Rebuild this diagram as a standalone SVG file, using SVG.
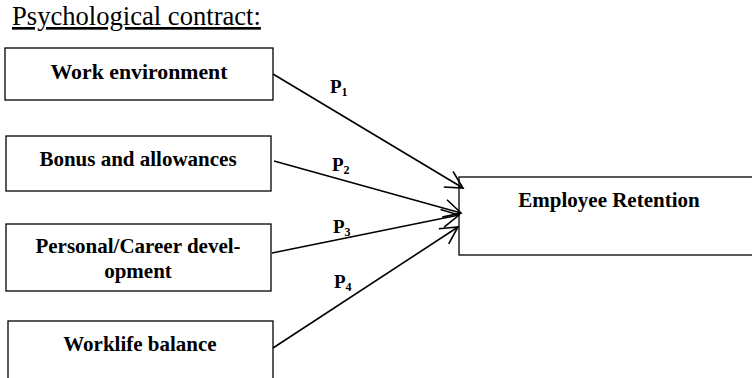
<svg xmlns="http://www.w3.org/2000/svg" width="752" height="378" viewBox="0 0 752 378">
<defs>
<style>
.box{fill:#fff;stroke:#000;stroke-width:1.3}
.lbl{font-family:"Liberation Serif","Times New Roman",serif;font-weight:bold;font-size:21px;fill:#000;text-anchor:middle}
.p{font-family:"Liberation Serif","Times New Roman",serif;font-weight:bold;font-size:19px;fill:#000}
.sub{font-size:12px}
.conn{stroke:#000;stroke-width:1.6;fill:none;marker-end:url(#arr)}
</style>
<marker id="arr" markerUnits="userSpaceOnUse" viewBox="-20 -12 22 24" refX="0" refY="0" markerWidth="22" markerHeight="24" orient="auto">
<path d="M-17,-9 L0,0 L-17,9" fill="none" stroke="#000" stroke-width="1.6"/>
</marker>
</defs>
<rect width="752" height="378" fill="#fff"/>
<text x="12" y="25" font-family="Liberation Serif, Times New Roman, serif" font-size="26.6" text-decoration="underline" fill="#000">Psychological contract:</text>
<g id="work">
<rect class="box" x="5" y="48" width="268" height="52"/>
<text class="lbl" x="139" y="79" style="font-size:21.8px">Work environment</text>
</g>
<g id="bonus">
<rect class="box" x="6" y="136" width="265" height="55"/>
<text class="lbl" x="138" y="166">Bonus and allowances</text>
</g>
<g id="career">
<rect class="box" x="6" y="224" width="265" height="67"/>
<text class="lbl" x="138" y="253">Personal/Career devel-</text>
<text class="lbl" x="138" y="278">opment</text>
</g>
<g id="worklife">
<rect class="box" x="8" y="321" width="265" height="70"/>
<text class="lbl" x="140" y="351">Worklife balance</text>
</g>
<g id="retention">
<rect class="box" x="459" y="177" width="300" height="78"/>
<text class="lbl" x="609" y="207">Employee Retention</text>
</g>
<g id="connectors">
<line class="conn" x1="273" y1="74" x2="463" y2="188"/>
<line class="conn" x1="274" y1="161" x2="461" y2="213"/>
<line class="conn" x1="272" y1="253" x2="459" y2="215"/>
<line class="conn" x1="273" y1="348" x2="458" y2="227"/>
<text class="p" x="330" y="93">P<tspan class="sub" dy="3">1</tspan></text>
<text class="p" x="332" y="171">P<tspan class="sub" dy="3">2</tspan></text>
<text class="p" x="333" y="233">P<tspan class="sub" dy="3">3</tspan></text>
<text class="p" x="334" y="288">P<tspan class="sub" dy="3">4</tspan></text>
</g>
</svg>
